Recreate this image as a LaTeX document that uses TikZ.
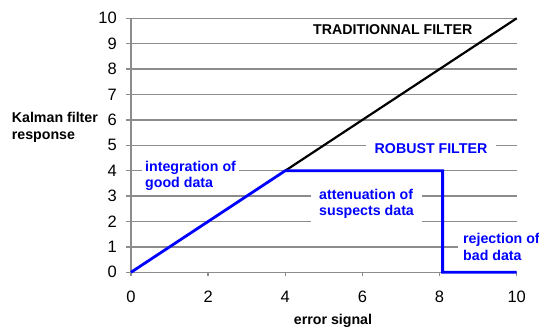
\documentclass[tikz,border=0pt]{standalone}
\usepackage{fontspec}
\setmainfont{Liberation Sans}
\begin{document}
\begin{tikzpicture}[x=38.57pt,y=25.4pt,
  gridline/.style={draw=black!45, line width=1.3pt},
  ticknum/.style={font=\fontsize{16.5}{18}\selectfont, inner sep=0pt},
  axislabel/.style={font=\bfseries\fontsize{14.2}{16.7}\selectfont, inner sep=0pt, align=left},
  bluelabel/.style={font=\bfseries\fontsize{14.2}{16.7}\selectfont, text=blue, fill=white, align=left},
  trad/.style={draw=black, line width=2.2pt},
  robust/.style={draw=blue, line width=2.8pt, line join=miter}]
\useasboundingbox (-131pt,-56.7pt) rectangle (408pt,272.3pt);

% horizontal grid and the zero line
\foreach \i in {0,...,10}
  \draw[gridline] (-5pt,\i) -- (10,\i);
% vertical axis and ticks on the horizontal axis
\draw[gridline] (0,0) -- (0,10);
\foreach \i in {0,2,...,10}
  \draw[gridline] (\i,0) -- (\i,-4pt);

% tick labels
\foreach \i in {0,...,10}
  \node[ticknum, anchor=east] (y\i) at (-14pt,\i) {\i};
\foreach \i in {0,2,...,10}
  \node[ticknum, anchor=base] (x\i) at (\i,-30pt) {\i};

% axis titles
\node[axislabel, anchor=north west] (ylab) at (-119.3pt,160.4pt) {Kalman filter\\response};
\node[axislabel, anchor=base] (xlab) at (202pt,-51.9pt) {error signal};

% region labels (white boxes break the grid lines)
\node[bluelabel, anchor=base, inner xsep=9pt, inner ysep=2pt] (rob) at (300pt,119.2pt) {ROBUST FILTER};
\node[bluelabel, anchor=north west, inner xsep=3pt, inner ysep=2pt] (integ) at (11pt,113.7pt) {integration of\\good data};
\node[bluelabel, anchor=north west, inner xsep=8pt, inner ysep=4pt] (atten) at (180pt,87.7pt) {attenuation of\\suspects data};
\node[bluelabel, anchor=north west, inner xsep=5pt, inner ysep=2pt] (rej) at (327pt,41pt) {rejection of\\bad data};

% traditional filter response
\draw[trad] (4,4) -- (10,10);
\node[axislabel, anchor=base west] (tradlab) at (182pt,237.3pt) {TRADITIONNAL FILTER};

% robust filter response
\draw[robust] (0,0) -- (4,4) -- (8.08,4) -- (8.08,0) -- (10,0);
\end{tikzpicture}
\end{document}
